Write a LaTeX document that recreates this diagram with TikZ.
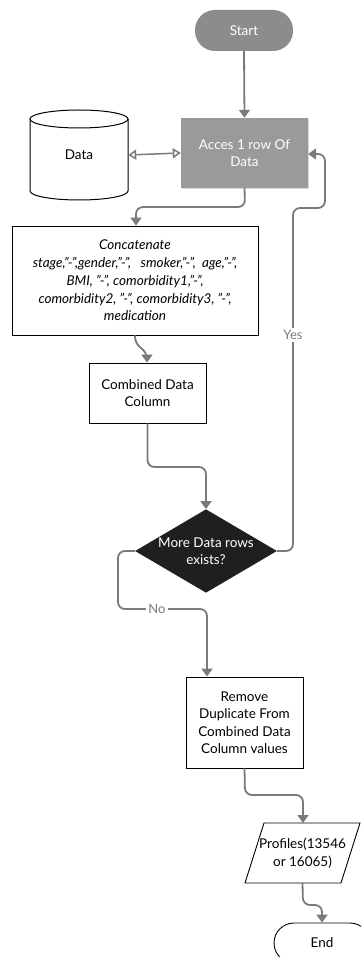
\documentclass[tikz,border=0pt]{standalone}
\usepackage{fontspec}
\setmainfont{Lato}
\usetikzlibrary{arrows.meta,shapes.geometric,shadows}
\definecolor{lineg}{HTML}{7A7A7A}
\definecolor{startg}{HTML}{8C8C8C}
\definecolor{accesg}{HTML}{9A9A9A}
\begin{document}
\begin{tikzpicture}[x=1pt,y=-1pt,
  txt/.style={font=\fontsize{13.5}{17.5}\selectfont, align=center, inner sep=0pt},
  pill/.style={txt, draw=none, rounded corners=20pt, minimum width=98pt, minimum height=41pt},
  procbox/.style={txt, draw=black, line width=0.9pt, fill=white, drop shadow={opacity=0.25, shadow xshift=1pt, shadow yshift=-1pt}},
  conn/.style={draw=lineg, line width=1.8pt, rounded corners=7pt, -{Triangle[length=8pt,width=11pt]}},
  lbl/.style={font=\fontsize{13}{15}\selectfont, text=lineg, fill=white, inner sep=2pt}
]
\clip (0,0) rectangle (361,957);
\fill[white] (0,0) rectangle (361,957);

% Start
\node[pill, fill=startg, text=white] (start) at (244,30.5) {Start};
% Acces
\node[txt, fill=accesg, text=white, minimum width=127pt, minimum height=70pt,
      drop shadow={opacity=0.3, shadow xshift=1pt, shadow yshift=-1pt}] (acces) at (244.5,153) {Acces 1 row Of\\Data};
% Data cylinder
\draw[line width=1pt, fill=white] (30,119) -- (30,191) arc[start angle=180, end angle=360, x radius=49pt, y radius=9pt] -- (128,119);
\draw[line width=1pt] (79,119) ellipse[x radius=49pt, y radius=9pt];
\node[txt, minimum width=98pt, minimum height=70pt] (data) at (79,155) {Data};

% Concatenate
\node[procbox, minimum width=246pt, minimum height=109pt, font=\fontsize{13.5}{17.7}\selectfont\itshape] (concat) at (135,280.5)
  {Concatenate\\stage,"-",gender,"-",\ \ \ smoker,"-",\ \ age,"-",\\BMI, "-", comorbidity1,"-",\\comorbidity2, "-", comorbidity3, "-",\\medication};
% Combined
\node[procbox, minimum width=117pt, minimum height=60pt] (comb) at (147.5,393) {Combined Data\\Column};
% Decision
\node[diamond, txt, fill=black!88, text=white, minimum width=134pt, minimum height=78pt, aspect=1.7] (dec) at (206,551) {More Data rows\\exists?};
% Remove
\node[procbox, minimum width=117pt, minimum height=91pt] (remove) at (244.5,722.5) {Remove\\Duplicate From\\Combined Data\\Column values};
% Profiles
\draw[line width=0.9pt, fill=white] (264,823) -- (360,823) -- (341,883) -- (245,883) -- cycle;
\node[txt, minimum width=80pt, minimum height=60pt] (prof) at (302.5,853) {Profiles(13546\\or 16065)};
% End
\node[pill, draw=black, line width=0.9pt, left color=white, right color=white, middle color=white, minimum width=96pt, minimum height=40pt] (endn) at (322,943) {};
\node[txt] (endt) at (322,943) {End};

% connectors
\draw[conn] (start.south) -- (acces.north);
\draw[draw=lineg, line width=1.5pt, {Triangle[open,length=8pt,width=10pt]}-{Triangle[open,length=8pt,width=10pt]}] (data.east |- 0,155) -- (acces.west |- 0,153);
\draw[conn] (acces.south) -- (245,207) -- (136,207) -- (concat.north -| 136,0);
\draw[conn] (concat.south) -- (135,344) -- (147,352) -- (comb.north -| 147,0);
\draw[conn] (comb.south) -- (147.5,467) -- (206,467) -- (dec.north);
\draw[conn] (dec.east) -- (293,551) -- (293,208) -- (325,208) -- (325,154) -- (acces.east |- 0,154);
\node[lbl] (yes) at (293,335) {Yes};
\draw[conn] (dec.west) -- (118,551) -- (118,609) -- (207,609) -- (remove.north -| 207,0);
\node[lbl] (no) at (157,609) {No};
\draw[conn] (remove.south) -- (245,795) -- (303,795) -- (303,823);
\draw[conn] (prof.south) -- (303,905) -- (322,905) -- (endn.north);
\end{tikzpicture}
\end{document}
